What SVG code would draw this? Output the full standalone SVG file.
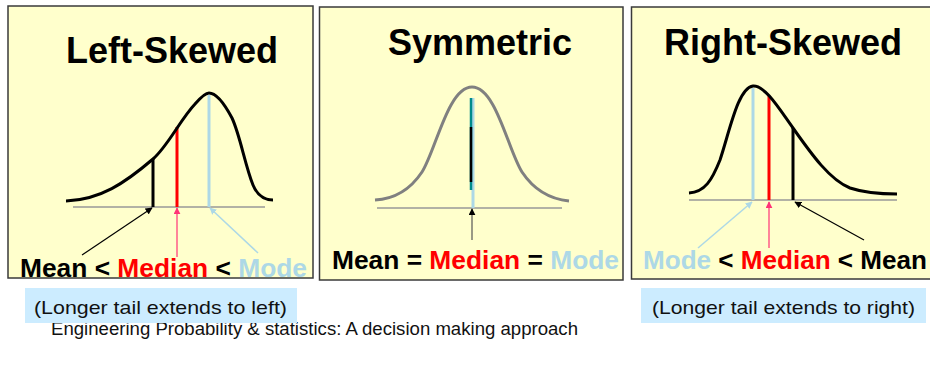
<svg xmlns="http://www.w3.org/2000/svg" width="930" height="371" viewBox="0 0 930 371">
<style>
.panel{fill:#FFFFCC;stroke:#3a3a3a;stroke-width:1.5}
.title{font-family:"Liberation Sans",Arial,sans-serif;font-weight:bold;font-size:36px;fill:#000}
.lab{font-family:"Liberation Sans",Arial,sans-serif;font-weight:bold;font-size:26px}
.curve{fill:none;stroke:#000;stroke-width:3}
.axis{stroke:#999;stroke-width:1.5}
.note{font-family:"Liberation Sans",Arial,sans-serif;font-size:19px;fill:#111}
.foot{font-family:"Liberation Sans",Arial,sans-serif;font-size:17.5px;fill:#111}
.box{fill:#CCECFF}
</style>
<defs>
<marker id="ahK" viewBox="0 0 10 10" refX="9" refY="5" markerWidth="7" markerHeight="7" orient="auto" markerUnits="userSpaceOnUse"><path d="M0,0 L10,5 L0,10 z" fill="#000"/></marker>
<marker id="ahP" viewBox="0 0 10 10" refX="9" refY="5" markerWidth="7" markerHeight="7" orient="auto" markerUnits="userSpaceOnUse"><path d="M0,0 L10,5 L0,10 z" fill="#FF3377"/></marker>
<marker id="ahB" viewBox="0 0 10 10" refX="9" refY="5" markerWidth="7" markerHeight="7" orient="auto" markerUnits="userSpaceOnUse"><path d="M0,0 L10,5 L0,10 z" fill="#ADD8E6"/></marker>
</defs>

<g id="left-skewed">
<rect class="panel" x="8" y="6" width="305" height="272"/>
<text class="title" x="66" y="63">Left-Skewed</text>
<line class="axis" x1="73" y1="207" x2="265" y2="207"/>
<line x1="153" y1="159" x2="153" y2="207" stroke="#000" stroke-width="3"/>
<line x1="177" y1="127" x2="177" y2="207" stroke="#FF0000" stroke-width="3"/>
<line x1="209" y1="95" x2="209" y2="207" stroke="#ADD8E6" stroke-width="3"/>
<path class="curve" d="M66,201 C100,200 125,183 153,159 C168,146 180,120 195,104 C202,96 206,93 209,93 C216,93 224,103 232,118 C240,135 245,165 253,185 C258,197 265,200 273,200"/>
<text class="lab" x="20" y="277" textLength="287" lengthAdjust="spacingAndGlyphs"><tspan fill="#000">Mean &lt; </tspan><tspan fill="#FF0000">Median</tspan><tspan fill="#000"> &lt; </tspan><tspan fill="#ADD8E6">Mode</tspan></text>
</g>

<g id="symmetric">
<rect class="panel" x="319.5" y="7" width="303.5" height="273"/>
<text class="title" x="388" y="55">Symmetric</text>
<line class="axis" x1="377" y1="208" x2="562" y2="208"/>
<line x1="473" y1="98" x2="473" y2="208" stroke="#ADD8E6" stroke-width="3"/>
<line x1="471" y1="98" x2="471" y2="190" stroke="#008B8B" stroke-width="2.5"/>
<line x1="471" y1="127" x2="471" y2="182" stroke="#000" stroke-width="2.5"/>
<path class="curve" stroke="#808080" style="stroke:#808080" d="M375,200 C395,199 410,190 422,172 C436,150 448,87 472,87 C496,87 508,150 522,172 C534,190 549,199 569,201"/>
<text class="lab" x="332" y="269" textLength="287" lengthAdjust="spacingAndGlyphs"><tspan fill="#000">Mean = </tspan><tspan fill="#FF0000">Median</tspan><tspan fill="#000"> = </tspan><tspan fill="#ADD8E6">Mode</tspan></text>
</g>

<g id="right-skewed">
<rect class="panel" x="631.5" y="7" width="310" height="272"/>
<text class="title" x="664" y="55">Right-Skewed</text>
<line class="axis" x1="689" y1="200" x2="897" y2="200"/>
<line x1="753" y1="88" x2="753" y2="200" stroke="#ADD8E6" stroke-width="3"/>
<line x1="769" y1="96" x2="769" y2="200" stroke="#FF0000" stroke-width="3"/>
<line x1="793" y1="128" x2="793" y2="200" stroke="#000" stroke-width="3"/>
<path class="curve" d="M689,193 C705,192 712,180 720,160 C730,130 738,88 753,86 C765,85 780,110 793,128 C812,155 830,180 850,188 C868,194 885,194 897,194"/>
<text class="lab" x="643" y="269" textLength="284" lengthAdjust="spacingAndGlyphs"><tspan fill="#ADD8E6">Mode</tspan><tspan fill="#000"> &lt; </tspan><tspan fill="#FF0000">Median</tspan><tspan fill="#000"> &lt; Mean</tspan></text>
</g>

<g id="connectors">
<line x1="82" y1="255" x2="152" y2="208" stroke="#000" stroke-width="1.2" marker-end="url(#ahK)"/>
<line x1="177" y1="257" x2="177" y2="208" stroke="#FF3377" stroke-width="1.2" marker-end="url(#ahP)"/>
<line x1="258" y1="253" x2="210" y2="208" stroke="#ADD8E6" stroke-width="1.5" marker-end="url(#ahB)"/>
<line x1="472" y1="240" x2="472" y2="209" stroke="#555" stroke-width="1.2" marker-end="url(#ahK)"/>
<line x1="698" y1="248" x2="752" y2="202" stroke="#ADD8E6" stroke-width="1.5" marker-end="url(#ahB)"/>
<line x1="769" y1="248" x2="769" y2="202" stroke="#FF3377" stroke-width="1.2" marker-end="url(#ahP)"/>
<line x1="864" y1="240" x2="795" y2="202" stroke="#000" stroke-width="1.2" marker-end="url(#ahK)"/>
</g>

<g id="footer">
<text class="foot" x="51" y="335" textLength="527" lengthAdjust="spacingAndGlyphs">Engineering Probability &amp; statistics: A decision making approach</text>
</g>

<g id="note-left">
<rect class="box" x="25" y="288" width="272" height="35"/>
<text class="note" x="34" y="314" textLength="253" lengthAdjust="spacingAndGlyphs">(Longer tail extends to left)</text>
</g>

<g id="note-right">
<rect class="box" x="641" y="288" width="285" height="35"/>
<text class="note" x="652" y="314" textLength="263" lengthAdjust="spacingAndGlyphs">(Longer tail extends to right)</text>
</g>
</svg>
